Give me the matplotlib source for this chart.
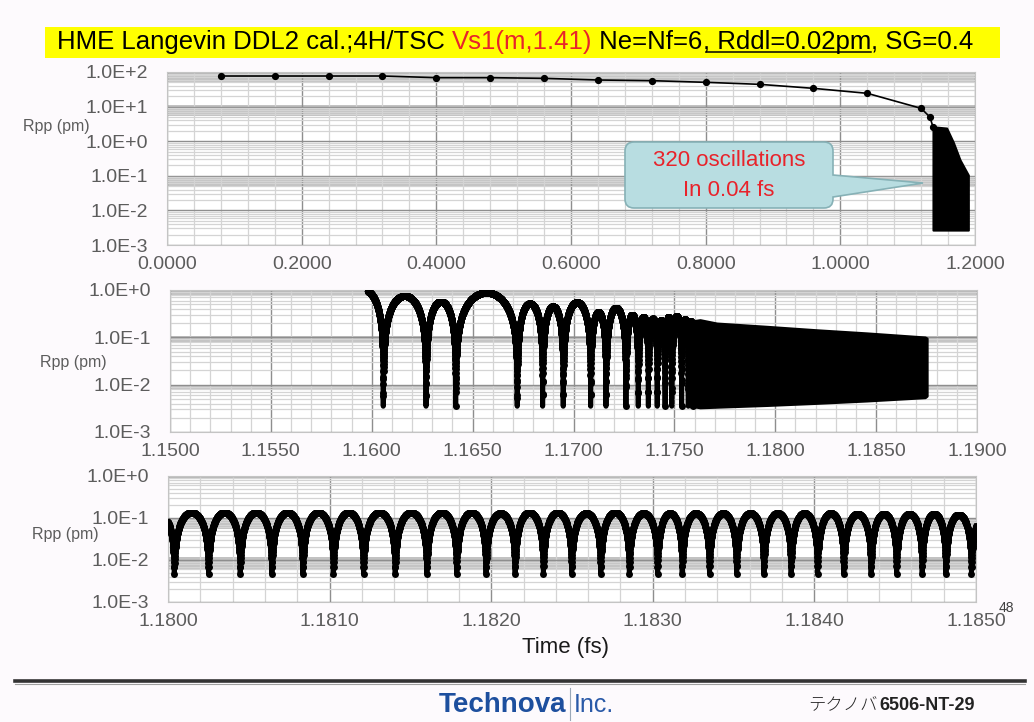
import numpy as np
import matplotlib
matplotlib.use("Agg")
import matplotlib.pyplot as plt
from matplotlib.transforms import Affine2D
from matplotlib.path import Path
from matplotlib.patches import PathPatch, Rectangle
from matplotlib.lines import Line2D
from matplotlib.ticker import FixedLocator, MultipleLocator, LogLocator, FuncFormatter, NullFormatter

# ---------------- data ----------------
# Panel 1: full run 0 - 1.2 fs
p1_t = [0.08, 0.16, 0.24, 0.32, 0.40, 0.48, 0.56, 0.64, 0.72, 0.80, 0.88, 0.96, 1.04, 1.12]
p1_r = [76.6, 76.6, 76.6, 76.6, 68.6, 68.6, 65.6, 58.7, 56.2, 50.3, 44.0, 33.7, 24.2, 8.9]
p1_tail_t = [1.1330, 1.1376]
p1_tail_r = [5.0, 2.6]
p1_block_t = [1.1376, 1.1381, 1.1579, 1.1678, 1.1777, 1.1901]
p1_block_top = [2.6, 2.6, 2.4, 0.93, 0.29, 0.105]
p1_block_bot = [0.0027, 0.0027, 0.0027, 0.0027, 0.0027, 0.0027]
p1_xticks = [0.0, 0.2, 0.4, 0.6, 0.8, 1.0, 1.2]

# Panel 2: 1.15 - 1.19 fs
p2_lead_t = [1.1594, 1.1598]
p2_lead_r = [1.25, 0.95]
p2_trough_t = [1.15863, 1.16057, 1.16269, 1.16416, 1.16721, 1.16847, 1.16949, 1.17085,
               1.17161, 1.17260, 1.17321, 1.17371, 1.17415, 1.17454, 1.17487, 1.17536,
               1.17569, 1.17592]
p2_peak_r = [1.0, 0.75, 0.57, 0.88, 0.52, 0.45, 0.55, 0.34, 0.42, 0.30, 0.27, 0.25,
             0.23, 0.27, 0.28, 0.24, 0.22]
p2_floor = 0.0035
p2_dense_t = [1.17592, 1.17627, 1.17710, 1.17958, 1.18205, 1.18453, 1.18742, 1.18751]
p2_dense_top = [0.22, 0.232, 0.197, 0.168, 0.142, 0.122, 0.100, 0.095]
p2_dense_bot = [0.0035, 0.0033, 0.0034, 0.0037, 0.0041, 0.0046, 0.0054, 0.0058]
p2_xticks = [1.150, 1.155, 1.160, 1.165, 1.170, 1.175, 1.180, 1.185, 1.190]

# Panel 3: 1.180 - 1.185 fs
p3_trough_t = [1.17985, 1.180039, 1.180251, 1.180447, 1.180643, 1.180835, 1.181024,
               1.181210, 1.181406, 1.181602, 1.181787, 1.181968, 1.182148, 1.182323,
               1.182498, 1.182678, 1.182855, 1.183030, 1.183182, 1.183351, 1.183519,
               1.183688, 1.183856, 1.184020, 1.184182, 1.184351, 1.184509, 1.184667,
               1.184814, 1.184972, 1.18514]
p3_peak_r = [0.13, 0.135, 0.135, 0.135, 0.135, 0.135, 0.135, 0.135, 0.135, 0.135,
             0.135, 0.13, 0.135, 0.135, 0.13, 0.135, 0.13, 0.13, 0.13, 0.13,
             0.13, 0.13, 0.13, 0.13, 0.125, 0.125, 0.125, 0.125, 0.12, 0.12]
p3_floor = 0.0047
p3_xticks = [1.180, 1.181, 1.182, 1.183, 1.184, 1.185]

# ---------------- figure helpers ----------------
W, H = 1034, 722
BG = "#fdfafd"
RED = "#e8232b"
TICKC = "#5c5c5c"
FONT = "Liberation Sans"
plt.rcParams["font.family"] = [FONT, "DejaVu Sans"]

fig = plt.figure(figsize=(W / 100, H / 100), dpi=100, facecolor=BG)
PX = Affine2D().scale(1, -1).translate(0, H)  # top-left pixel coordinates


def add_axes_px(x0, y0, x1, y1):
    return fig.add_axes([x0 / W, 1 - y1 / H, (x1 - x0) / W, (y1 - y0) / H])


def style(ax, xlim, xticks, xminor, bands):
    ax.set_yscale("log")
    ax.set_xlim(*xlim)
    ax.set_facecolor("white")
    ax.xaxis.set_major_locator(FixedLocator(xticks))
    ax.xaxis.set_minor_locator(MultipleLocator(xminor))
    ax.yaxis.set_major_locator(LogLocator(base=10, numticks=20))
    ax.yaxis.set_minor_locator(LogLocator(base=10, subs=np.arange(2, 10), numticks=20))
    ax.yaxis.set_minor_formatter(NullFormatter())
    ax.yaxis.set_major_formatter(FuncFormatter(lambda v, p: f"1.0E{int(round(np.log10(v))):+d}"))
    ax.xaxis.set_major_formatter(FuncFormatter(lambda v, p: f"{v:.4f}"))
    ax.grid(True, which="major", axis="both", color="#8e8e8e", lw=1.0)
    ax.grid(True, which="minor", axis="both", color="#d4d4d4", lw=0.9)
    ax.set_axisbelow(True)
    ax.tick_params(which="both", length=0)
    ax.tick_params(axis="y", pad=14, labelsize=14, labelcolor=TICKC)
    ax.tick_params(axis="x", pad=8, labelsize=14, labelcolor=TICKC)
    for lo, hi in bands:
        ax.axhspan(lo, hi, color="#c2c2c2", lw=0, zorder=0.3)
    for s in ax.spines.values():
        s.set_color("#c4c4c4")


def arch_curve(troughs, peaks, floor, dt):
    ts, rs = [], []
    for a, b, p in zip(troughs[:-1], troughs[1:], peaks):
        n = max(int(round((b - a) / dt)), 6)
        t = np.linspace(a, b, n + 1)[:-1]
        ts.append(t)
        rs.append(floor + (p - floor) * np.sin(np.pi * (t - a) / (b - a)))
    ts.append([troughs[-1]])
    rs.append([floor])
    return np.concatenate(ts), np.concatenate(rs)


# ---------------- panel 1 ----------------
ax1 = add_axes_px(167, 72, 975, 245)
style(ax1, (0.0, 1.2), p1_xticks, 0.04, [(50, 100), (5.5, 10.8), (0.05, 0.1)])
ax1.set_ylim(1e-3, 1e2)
ax1.plot(p1_t + p1_tail_t, p1_r + p1_tail_r, color="k", lw=1.2, zorder=3)
ax1.plot(p1_t + p1_tail_t, p1_r + p1_tail_r, ls="none", marker="o", ms=4.2,
         color="k", zorder=3)
ax1.fill_between(p1_block_t, p1_block_bot, p1_block_top, color="k", lw=1.5,
                 edgecolor="k", zorder=3)

# ---------------- panel 2 ----------------
ax2 = add_axes_px(170, 290, 977, 432)
style(ax2, (1.15, 1.19), p2_xticks, 0.001, [(0.78, 1.0), (0.08, 0.106), (0.0077, 0.0098)])
ax2.set_ylim(1e-3, 1e0)
t2, r2 = arch_curve(p2_trough_t, p2_peak_r, p2_floor, 1e-6)
m = t2 >= p2_lead_t[-1]
ax2.plot(p2_lead_t, p2_lead_r, color="k", lw=1.0, zorder=3)
ax2.plot(t2[m], r2[m], color="k", lw=3.6, marker="o", ms=5.0, mew=0,
         markevery=4, zorder=3)
ax2.fill_between(p2_dense_t, p2_dense_bot, p2_dense_top, color="k", lw=2,
                 edgecolor="k", zorder=3)

# ---------------- panel 3 ----------------
ax3 = add_axes_px(168, 476, 976, 602)
style(ax3, (1.18, 1.185), p3_xticks, 0.0002, [(0.85, 1.0), (0.055, 0.1), (0.006, 0.012)])
ax3.set_ylim(1e-3, 1e0)
t3, r3 = arch_curve(p3_trough_t, p3_peak_r, p3_floor, 1e-6)
ax3.plot(t3, r3, color="k", lw=3.6, marker="o", ms=5.0, mew=0, zorder=3)

# ---------------- axis labels ----------------
for (x, y) in [(23, 127), (40, 362), (32, 535)]:
    fig.text(x, y, "Rpp (pm)", transform=PX, ha="left", va="center",
             fontsize=11.5, color=TICKC)
fig.text(565, 648, "Time (fs)", transform=PX, ha="center", va="center",
         fontsize=16, color="#1a1a1a")
fig.text(1006, 608, "48", transform=PX, ha="center", va="center",
         fontsize=10, color="#404040")

# ---------------- callout ----------------
x0, x1, y0, y1, r = 625, 833, 142, 208, 9
tip = (923, 183)
verts = [(x0 + r, y0), (x1 - r, y0), (x1, y0), (x1, y0 + r), (x1, 175), tip, (x1, 197),
         (x1, y1 - r), (x1, y1), (x1 - r, y1), (x0 + r, y1), (x0, y1), (x0, y1 - r),
         (x0, y0 + r), (x0, y0), (x0 + r, y0), (x0 + r, y0)]
codes = [Path.MOVETO, Path.LINETO, Path.CURVE3, Path.CURVE3, Path.LINETO, Path.LINETO,
         Path.LINETO, Path.LINETO, Path.CURVE3, Path.CURVE3, Path.LINETO, Path.CURVE3,
         Path.CURVE3, Path.LINETO, Path.CURVE3, Path.CURVE3, Path.CLOSEPOLY]
fig.add_artist(PathPatch(Path(verts, codes), transform=PX, facecolor="#b8dde1",
                         edgecolor="#86b1b6", lw=1.2, zorder=10))
fig.text(729, 160, "320 oscillations", transform=PX, ha="center", va="center",
         fontsize=16, color=RED, zorder=11)
fig.text(729, 190, "In 0.04 fs", transform=PX, ha="center", va="center",
         fontsize=16, color=RED, zorder=11)

# ---------------- title ----------------
fig.add_artist(Rectangle((45, 27), 955, 31, transform=PX, facecolor="#ffff00",
                         edgecolor="none", zorder=1))
renderer = fig.canvas.get_renderer()


def textw(s, fs):
    t = fig.text(0, 0, s + "x", transform=PX, fontsize=fs)
    u = fig.text(0, 0, "x", transform=PX, fontsize=fs)
    w = t.get_window_extent(renderer).width - u.get_window_extent(renderer).width
    t.remove()
    u.remove()
    return w


title_parts = [("HME Langevin DDL2 cal.;4H/TSC ", "black", False),
               ("Vs1(m,1.41)", RED, False),
               (" Ne=Nf=6", "black", False),
               (", Rddl=0.02pm", "black", True),
               (", SG=0.4", "black", False)]
full = "".join(p[0] for p in title_parts)
fs = 15 * 918 / textw(full, 15)
prefix = ""
for s, c, ul in title_parts:
    x = 57 + textw(prefix, fs) if prefix else 57
    fig.text(x, 49, s, transform=PX, fontsize=fs, color=c, ha="left",
             va="baseline", zorder=2)
    if ul:
        w = textw(s, fs)
        fig.add_artist(Line2D([x + 3, x + w], [51.5, 51.5], transform=PX,
                              color="black", lw=1.1, zorder=2))
    prefix += s

# ---------------- footer ----------------
fig.add_artist(Line2D([15, 1025], [681, 681], transform=PX, color="#333333", lw=2.6))
fig.add_artist(Line2D([15, 1025], [684, 684], transform=PX, color="#a0a0a0", lw=0.8))
fig.text(566, 705, "Technova", transform=PX, ha="right", va="center", fontsize=20,
         fontweight="bold", color="#1d4f9e")
fig.add_artist(Line2D([570, 570], [688, 720], transform=PX, color="#9aa8b8", lw=0.8))
fig.text(574, 705, "Inc.", transform=PX, ha="left", va="center", fontsize=18,
         color="#2a5aa8")
fig.text(808, 705, "テクノバ", transform=PX, ha="left", va="center", fontsize=12.5,
         family=["Noto Sans CJK JP", "DejaVu Sans"], fontweight="light", color="#222222")
fig.text(975, 705, "6506-NT-29", transform=PX, ha="right", va="center", fontsize=13,
         fontweight="bold", color="#222222")

fig.savefig("out.png", dpi=100, facecolor=BG)
